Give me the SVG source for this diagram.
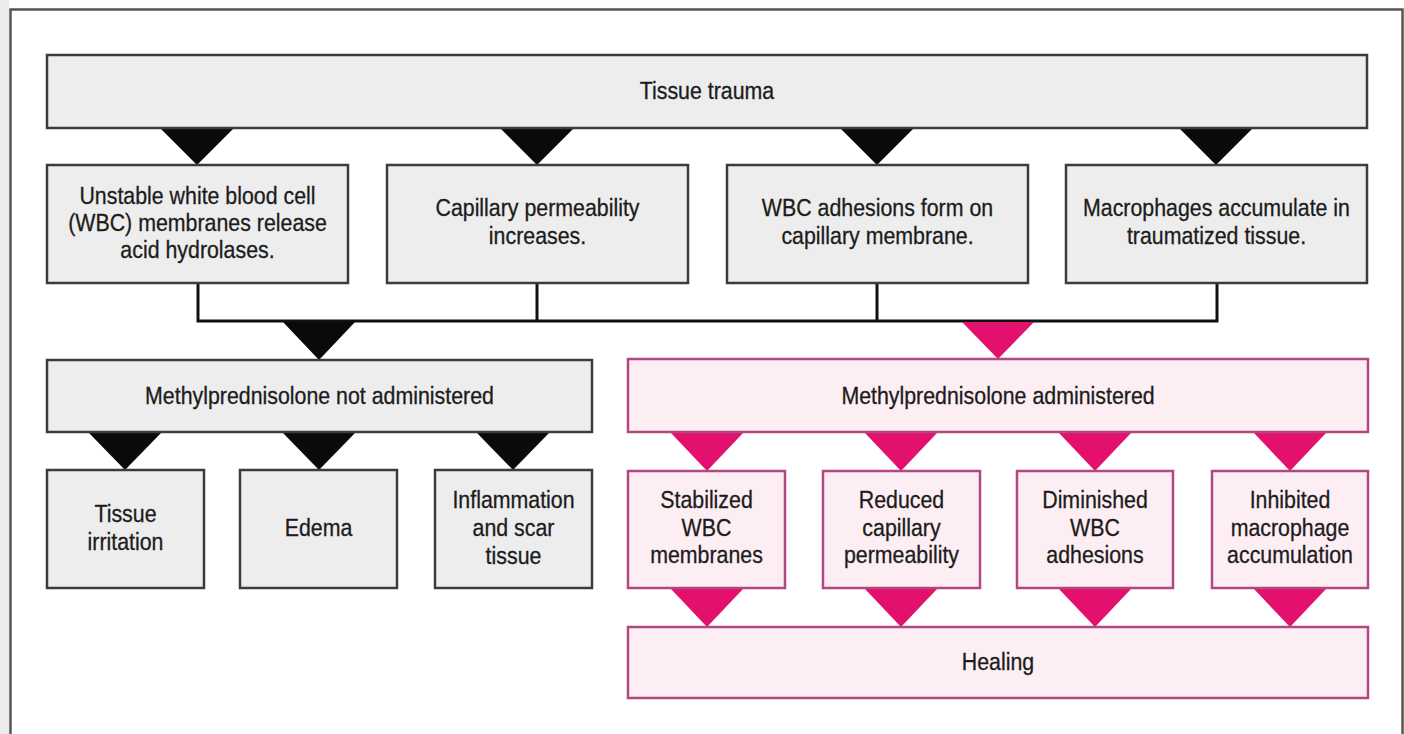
<svg xmlns="http://www.w3.org/2000/svg" width="1404" height="734" viewBox="0 0 1404 734">
<style>
.g{fill:#ededed;stroke:#3c3c3c;stroke-width:2.5}
.p{fill:#fdeef4;stroke:#b3477f;stroke-width:2.5}
.t{font-family:"Liberation Sans",Arial,sans-serif;font-size:24px;fill:#1c1c1c;stroke:#1c1c1c;stroke-width:0.3;text-anchor:middle}
.bk{fill:#0a0a0a}
.pk{fill:#e3116d}
.ln{fill:none;stroke:#111;stroke-width:3}
</style>
<rect x="0" y="0" width="1404" height="734" fill="#fff"/>
<rect x="0" y="0" width="9" height="734" fill="#ebebeb"/>
<path d="M10.5 734 V9.5 H1402.5 V734" fill="none" stroke="#555" stroke-width="2.5"/>

<g id="connectors">
<path class="ln" d="M198 284 V321 M537 284 V321 M877 284 V321 M1217 284 V321 M196.5 321 H1218.5"/>
<polygon class="bk" points="161,129 233,129 197,165"/>
<polygon class="bk" points="501,129 573,129 537,165"/>
<polygon class="bk" points="841,129 913,129 877,165"/>
<polygon class="bk" points="1180,129 1252,129 1216,165"/>
<polygon class="bk" points="283,322 355,322 319,360"/>
<polygon class="pk" points="962,322 1034,322 998,359"/>
<polygon class="bk" points="89,433 161,433 125,470"/>
<polygon class="bk" points="283,433 355,433 319,470"/>
<polygon class="bk" points="477,433 549,433 513,470"/>
<polygon class="pk" points="671,433 743,433 707,471"/>
<polygon class="pk" points="865,433 937,433 901,471"/>
<polygon class="pk" points="1059,433 1131,433 1095,471"/>
<polygon class="pk" points="1254,433 1326,433 1290,471"/>
<polygon class="pk" points="671,589 743,589 707,627"/>
<polygon class="pk" points="865,589 937,589 901,627"/>
<polygon class="pk" points="1059,589 1131,589 1095,627"/>
<polygon class="pk" points="1254,589 1326,589 1290,627"/>
</g>

<g id="tissue-trauma">
<rect class="g" x="47" y="55" width="1320" height="73"/>
<text class="t" transform="translate(707 0) scale(0.89 1)"><tspan x="0" y="99">Tissue trauma</tspan></text>
</g>

<g id="unstable-wbc">
<rect class="g" x="47" y="165" width="301" height="118"/>
<text class="t" transform="translate(197.5 0) scale(0.89 1)"><tspan x="0" y="204">Unstable white blood cell</tspan><tspan x="0" y="231">(WBC) membranes release</tspan><tspan x="0" y="258">acid hydrolases.</tspan></text>
</g>

<g id="capillary-permeability">
<rect class="g" x="387" y="165" width="301" height="118"/>
<text class="t" transform="translate(537.5 0) scale(0.89 1)"><tspan x="0" y="216">Capillary permeability</tspan><tspan x="0" y="244">increases.</tspan></text>
</g>

<g id="wbc-adhesions">
<rect class="g" x="727" y="165" width="301" height="118"/>
<text class="t" transform="translate(877.5 0) scale(0.89 1)"><tspan x="0" y="216">WBC adhesions form on</tspan><tspan x="0" y="244">capillary membrane.</tspan></text>
</g>

<g id="macrophages">
<rect class="g" x="1066" y="165" width="301" height="118"/>
<text class="t" transform="translate(1216.5 0) scale(0.89 1)"><tspan x="0" y="216">Macrophages accumulate in</tspan><tspan x="0" y="244">traumatized tissue.</tspan></text>
</g>

<g id="not-administered">
<rect class="g" x="47" y="360" width="545" height="72"/>
<text class="t" transform="translate(319.5 0) scale(0.89 1)"><tspan x="0" y="404">Methylprednisolone not administered</tspan></text>
</g>

<g id="administered">
<rect class="p" x="628" y="359" width="740" height="73"/>
<text class="t" transform="translate(998 0) scale(0.89 1)"><tspan x="0" y="404">Methylprednisolone administered</tspan></text>
</g>

<g id="tissue-irritation">
<rect class="g" x="47" y="470" width="157" height="118"/>
<text class="t" transform="translate(125.5 0) scale(0.89 1)"><tspan x="0" y="522">Tissue</tspan><tspan x="0" y="550">irritation</tspan></text>
</g>

<g id="edema">
<rect class="g" x="240" y="470" width="157" height="118"/>
<text class="t" transform="translate(318.5 0) scale(0.89 1)"><tspan x="0" y="536">Edema</tspan></text>
</g>

<g id="inflammation">
<rect class="g" x="435" y="470" width="157" height="118"/>
<text class="t" transform="translate(513.5 0) scale(0.89 1)"><tspan x="0" y="508">Inflammation</tspan><tspan x="0" y="536">and scar</tspan><tspan x="0" y="564">tissue</tspan></text>
</g>

<g id="stabilized-wbc">
<rect class="p" x="628" y="471" width="157" height="117"/>
<text class="t" transform="translate(706.5 0) scale(0.89 1)"><tspan x="0" y="508">Stabilized</tspan><tspan x="0" y="536">WBC</tspan><tspan x="0" y="563">membranes</tspan></text>
</g>

<g id="reduced-permeability">
<rect class="p" x="823" y="471" width="157" height="117"/>
<text class="t" transform="translate(901.5 0) scale(0.89 1)"><tspan x="0" y="508">Reduced</tspan><tspan x="0" y="536">capillary</tspan><tspan x="0" y="563">permeability</tspan></text>
</g>

<g id="diminished-adhesions">
<rect class="p" x="1017" y="471" width="156" height="117"/>
<text class="t" transform="translate(1095 0) scale(0.89 1)"><tspan x="0" y="508">Diminished</tspan><tspan x="0" y="536">WBC</tspan><tspan x="0" y="563">adhesions</tspan></text>
</g>

<g id="inhibited-macrophage">
<rect class="p" x="1212" y="471" width="156" height="117"/>
<text class="t" transform="translate(1290 0) scale(0.89 1)"><tspan x="0" y="508">Inhibited</tspan><tspan x="0" y="536">macrophage</tspan><tspan x="0" y="563">accumulation</tspan></text>
</g>

<g id="healing">
<rect class="p" x="628" y="627" width="740" height="71"/>
<text class="t" transform="translate(998 0) scale(0.89 1)"><tspan x="0" y="670">Healing</tspan></text>
</g>
</svg>
